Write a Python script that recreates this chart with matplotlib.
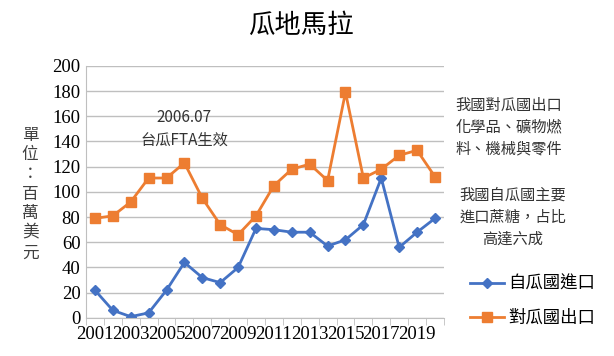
import numpy as np
import matplotlib
matplotlib.use("Agg")
import matplotlib.pyplot as plt

plt.rcParams['font.family'] = ['Noto Sans CJK TC', 'DejaVu Sans']

years = list(range(2001, 2021))
imports = [22, 6, 1, 4, 22, 44, 32, 28, 40, 71, 70, 68, 68, 57, 62, 74, 111, 56, 68, 79]
exports = [79, 81, 92, 111, 111, 123, 95, 74, 66, 81, 105, 118, 122, 109, 179, 111, 118, 129, 133, 112]
yticks = list(range(0, 201, 20))

blue = '#4472C4'
orange = '#ED7D31'

fig = plt.figure(figsize=(6.14, 3.56), dpi=100)
ax = fig.add_axes([0.140, 0.107, 0.583, 0.708])

x = np.arange(len(years))
ax.plot(x, imports, color=blue, lw=2, marker='D', ms=5, label='自瓜國進口')
ax.plot(x, exports, color=orange, lw=2, marker='s', ms=7, label='對瓜國出口')

ax.set_xlim(-0.5, len(years) - 0.5)
ax.set_ylim(0, 200)
ax.set_yticks(yticks)
ax.set_yticklabels([str(v) for v in yticks], family='Liberation Serif', fontsize=13.5)
ax.set_xticks(x[::2])
ax.set_xticklabels([str(y) for y in years[::2]], family='Liberation Serif', fontsize=13.5)
ax.set_xticks(np.arange(-0.5, len(years)), minor=True)
ax.tick_params(axis='x', which='major', length=0, pad=6)
ax.tick_params(axis='x', which='minor', length=5, color='#bfbfbf')
ax.tick_params(axis='y', length=0, pad=4)
ax.grid(axis='y', color='#bfbfbf', lw=1)
ax.set_axisbelow(True)
for s in ['top', 'right']:
    ax.spines[s].set_visible(False)
ax.spines['left'].set_color('#bfbfbf')
ax.spines['bottom'].set_color('#bfbfbf')

fig.text(0.49, 0.93, '瓜地馬拉', ha='center', va='center', fontsize=19)
fig.text(0.049, 0.455, '\n'.join('單位：百萬美元'), ha='center', va='center',
         fontsize=12, color='#404040', linespacing=1.2)
ax.text(5.0, 150, '2006.07\n台瓜FTA生效', ha='center', va='center', fontsize=11,
        color='#333333', linespacing=1.4)
fig.text(0.742, 0.643, '我國對瓜國出口\n化學品、礦物燃\n料、機械與零件', ha='left', va='center',
         fontsize=11, color='#333333', linespacing=1.35)
fig.text(0.835, 0.39, '我國自瓜國主要\n進口蔗糖，占比\n高達六成', ha='center', va='center',
         fontsize=11, color='#333333', linespacing=1.35)

fig.legend(loc='center left', bbox_to_anchor=(0.765, 0.155), frameon=False,
           borderaxespad=0, borderpad=0,
           fontsize=12.5, handlelength=2.0, labelspacing=0.9, handletextpad=0.2)

fig.savefig('out.png', dpi=100)
